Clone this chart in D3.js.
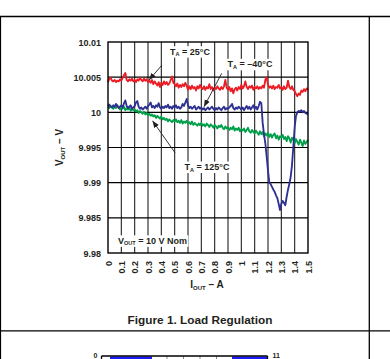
<!DOCTYPE html>
<html>
<head>
<meta charset="utf-8">
<script src="https://cdn.jsdelivr.net/npm/d3@7"></script>
<style>
  html, body { margin: 0; padding: 0; background: #fff; }
  svg { display: block; }
  text { font-family: "Liberation Sans", Arial, sans-serif; font-weight: bold; fill: #231f20; }
</style>
</head>
<body>
<svg id="chart" width="390" height="359"></svg>
<script>
// ---------------- DATA ----------------
const currents = [0,0.01,0.02,0.03,0.04,0.05,0.06,0.07,0.08,0.09,
0.1,0.11,0.12,0.13,0.14,0.15,0.16,0.17,0.18,0.19,
0.2,0.21,0.22,0.23,0.24,0.25,0.26,0.27,0.28,0.29,
0.3,0.31,0.32,0.33,0.34,0.35,0.36,0.37,0.38,0.39,
0.4,0.41,0.42,0.43,0.44,0.45,0.46,0.47,0.48,0.49,
0.5,0.51,0.52,0.53,0.54,0.55,0.56,0.57,0.58,0.59,
0.6,0.61,0.62,0.63,0.64,0.65,0.66,0.67,0.68,0.69,
0.7,0.71,0.72,0.73,0.74,0.75,0.76,0.77,0.78,0.79,
0.8,0.81,0.82,0.83,0.84,0.85,0.86,0.87,0.88,0.89,
0.9,0.91,0.92,0.93,0.94,0.95,0.96,0.97,0.98,0.99,
1,1.01,1.02,1.03,1.04,1.05,1.06,1.07,1.08,1.09,
1.1,1.11,1.12,1.13,1.14,1.15,1.16,1.17,1.18,1.19,
1.2,1.21,1.22,1.23,1.24,1.25,1.26,1.27,1.28,1.29,
1.3,1.31,1.32,1.33,1.34,1.35,1.36,1.37,1.38,1.39,
1.4,1.41,1.42,1.43,1.44,1.45,1.46,1.47,1.48,1.49,
1.5];

const vout25C = [10.0043,10.0048,10.0049,10.0045,10.0044,10.0046,10.0043,10.0045,10.0044,10.0047,
10.0045,10.0049,10.0053,10.0056,10.0046,10.0044,10.0047,10.0045,10.0048,10.0044,
10.0046,10.0043,10.0047,10.0045,10.0049,10.0046,10.0044,10.0048,10.0045,10.0047,
10.0043,10.0045,10.0042,10.0046,10.004,10.0044,10.0041,10.0038,10.0043,10.0036,
10.0042,10.0039,10.0044,10.004,10.0043,10.0039,10.0041,10.0046,10.0051,10.0042,
10.004,10.0037,10.0041,10.0035,10.0039,10.0036,10.004,10.0037,10.0042,10.0038,
10.0032,10.0037,10.0033,10.0038,10.0034,10.0036,10.0031,10.0037,10.0034,10.0039,
10.0035,10.0033,10.0037,10.0032,10.0036,10.0034,10.004,10.0033,10.0036,10.0031,
10.0035,10.0033,10.0037,10.0034,10.0032,10.0036,10.0033,10.0037,10.0046,10.0035,
10.0032,10.0036,10.003,10.0034,10.0027,10.0033,10.0035,10.0031,10.0036,10.0033,
10.0039,10.0034,10.0037,10.0044,10.0036,10.0033,10.0037,10.0035,10.0038,10.0032,
10.0036,10.0034,10.0037,10.0033,10.0036,10.0034,10.0038,10.0035,10.0046,10.005,
10.0039,10.0035,10.0037,10.0034,10.0038,10.0033,10.0036,10.0035,10.0039,10.0034,
10.0036,10.0032,10.0037,10.0033,10.0035,10.0045,10.0036,10.0033,10.0037,10.0032,
10.003,10.0026,10.0023,10.0027,10.0025,10.0031,10.0029,10.0033,10.003,10.0034,
10.0032];

const voutMinus40C = [10.0009,10.0011,10.0008,10.0007,10.001,10.0008,10.0012,10.0009,10.0006,10.0008,
10.001,10.0007,10.0013,10.0017,10.0009,10.0006,10.0008,10.001,10.0005,10.0007,
10.0009,10.0014,10.0016,10.0008,10.0005,10.0007,10.0004,10.0006,10.0008,10.0005,
10.0009,10.0011,10.0014,10.0007,10.0009,10.0006,10.001,10.0008,10.0013,10.0007,
10.0005,10.0008,10.0006,10.0009,10.0007,10.0011,10.0006,10.0008,10.0005,10.0009,
10.0007,10.001,10.0006,10.0008,10.0005,10.0007,10.0012,10.0009,10.0014,10.0019,
10.001,10.0006,10.0008,10.0005,10.0007,10.0009,10.0004,10.0006,10.0008,10.0005,
10.0007,10.0004,10.0006,10.0003,10.0005,10.0007,10.0004,10.0006,10.0008,10.0005,
10.0003,10.0006,10.0004,10.0007,10.0005,10.0003,10.0006,10.0008,10.0004,10.0006,
10.0005,10.0007,10.0009,10.0012,10.0006,10.0004,10.0007,10.0005,10.0008,10.0006,
10.0004,10.0007,10.0003,10.0006,10.0009,10.0005,10.0008,10.0004,10.0007,10.001,
10.0005,10.0008,10.0004,10.0009,10.0015,10.0013,9.9985,9.9969,9.9956,9.9937,
9.9917,9.99,9.9898,9.9894,9.989,9.9887,9.9882,9.9878,9.987,9.9861,
9.987,9.9874,9.9871,9.9868,9.988,9.989,9.9898,9.9908,9.9925,9.9951,
9.9979,9.9995,10,10.0002,10.0001,10.0003,10,10.0002,9.9999,9.9998,
9.9997];

const vout125C = [10.0008,10.0006,10.0009,10.0007,10.0005,10.0008,10.0006,10.001,10.0007,10.0004,
10.0007,10.0005,10.0008,10.0003,10.0006,10.0004,10.0007,10.0002,10.0005,10.0003,
10.0004,10.0001,10.0003,9.9999,10.0002,10,9.9998,10.0001,9.9997,9.9999,
9.9996,9.9998,9.9995,9.9997,9.9994,9.9996,9.9992,9.9995,9.9993,9.9991,
9.9994,9.999,9.9992,9.9989,9.9991,9.9987,9.999,9.9988,9.9986,9.9989,
9.9987,9.999,9.9986,9.9988,9.9985,9.9989,9.9984,9.9987,9.9985,9.9988,
9.9984,9.9986,9.9983,9.9987,9.9982,9.9985,9.9983,9.9981,9.9984,9.9982,
9.9985,9.9981,9.9983,9.998,9.9984,9.9982,9.9979,9.9983,9.9981,9.9978,
9.9982,9.998,9.9977,9.9981,9.9979,9.9982,9.9978,9.9976,9.998,9.9977,
9.9979,9.9975,9.9978,9.9976,9.998,9.9974,9.9977,9.9975,9.9978,9.9973,
9.9976,9.9974,9.9977,9.9972,9.9975,9.9978,9.9973,9.9971,9.9975,9.9972,
9.997,9.9974,9.9971,9.9968,9.9973,9.9969,9.9972,9.9966,9.997,9.9967,
9.9971,9.9965,9.9969,9.9964,9.9968,9.997,9.9963,9.9967,9.9961,9.9966,
9.9964,9.9968,9.9962,9.9965,9.9959,9.9966,9.9963,9.9957,9.9964,9.9961,
9.9956,9.9962,9.9958,9.9954,9.9961,9.9957,9.9952,9.996,9.9955,9.9958,
9.9961];

const xTicks = [0,0.1,0.2,0.3,0.4,0.5,0.6,0.7,0.8,0.9,1,1.1,1.2,1.3,1.4,1.5];
const xTickLabels = ["0","0.1","0.2","0.3","0.4","0.5","0.6","0.7","0.8","0.9","1","1.1","1.2","1.3","1.4","1.5"];
const yTicks = [9.98,9.985,9.99,9.995,10,10.005,10.01];
const yTickLabels = ["9.98","9.985","9.99","9.995","10","10.005","10.01"];

const seriesNames = ["25°C", "–40°C", "125°C"];
const seriesColors = ["#ec1c24", "#2e3192", "#00a04b"];

// next figure fragment (cut off at bottom of page)
const nextFigAxis = ["0", "11"];

// ---------------- CHART ----------------
const svg = d3.select("#chart");
const W = 390, H = 359;

// page frame
svg.append("line").attr("x1", 0).attr("x2", W).attr("y1", 16.5).attr("y2", 16.5)
  .attr("stroke", "#000").attr("stroke-width", 1.3);
svg.append("line").attr("x1", 0).attr("x2", W).attr("y1", 330.8).attr("y2", 330.8)
  .attr("stroke", "#000").attr("stroke-width", 1.3);
svg.append("line").attr("x1", 369.3).attr("x2", 369.3).attr("y1", 16).attr("y2", H)
  .attr("stroke", "#000").attr("stroke-width", 1.3);
svg.append("line").attr("x1", 0.5).attr("x2", 0.5).attr("y1", 16).attr("y2", H)
  .attr("stroke", "#000").attr("stroke-width", 1.2);

const L = 108, R = 308, T = 42, B = 253;
const x = d3.scaleLinear().domain([0, 1.5]).range([L, R]);
const y = d3.scaleLinear().domain([9.98, 10.01]).range([B, T]);

const g = svg.append("g");

// grid
g.selectAll(".vgrid").data(xTicks.slice(1, -1)).enter().append("line")
  .attr("x1", d => x(d)).attr("x2", d => x(d)).attr("y1", T).attr("y2", B)
  .attr("stroke", "#222").attr("stroke-width", 1.1);
g.selectAll(".hgrid").data(yTicks.slice(1, -1)).enter().append("line")
  .attr("x1", L).attr("x2", R).attr("y1", d => y(d)).attr("y2", d => y(d))
  .attr("stroke", "#000").attr("stroke-width", 1.2);

// series
const allSeries = [vout25C, voutMinus40C, vout125C];
const line = d3.line().x((d, i) => x(currents[i])).y(d => y(d));
const order = [2, 1, 0];
order.forEach(k => {
  g.append("path").datum(allSeries[k])
    .attr("d", line)
    .attr("fill", "none")
    .attr("stroke", seriesColors[k])
    .attr("stroke-width", 1.85)
    .attr("stroke-linejoin", "round");
});

// border
g.append("rect").attr("x", L).attr("y", T).attr("width", R - L).attr("height", B - T)
  .attr("fill", "none").attr("stroke", "#000").attr("stroke-width", 1.4);

// axes (labels only)
const xAxis = d3.axisBottom(x).tickValues(xTicks).tickSize(0)
  .tickFormat((d, i) => xTickLabels[i]);
const xg = svg.append("g").attr("transform", `translate(0,${B})`).call(xAxis);
xg.select(".domain").remove();
xg.selectAll("text")
  .attr("transform", "translate(0,8) rotate(-90)")
  .attr("x", 0).attr("y", 0).attr("dy", "0.35em")
  .attr("text-anchor", "end")
  .style("font-size", "9px").style("font-family", "Liberation Sans, Arial, sans-serif")
  .style("font-weight", "bold").attr("fill", "#231f20");

const yAxis = d3.axisLeft(y).tickValues(yTicks).tickSize(0)
  .tickFormat((d, i) => yTickLabels[i]);
const yg = svg.append("g").attr("transform", `translate(${L - 7},0)`).call(yAxis);
yg.select(".domain").remove();
yg.selectAll("text")
  .attr("x", 0).attr("dy", "0.35em")
  .style("font-size", "9px").style("font-family", "Liberation Sans, Arial, sans-serif")
  .style("font-weight", "bold").attr("fill", "#231f20");

// axis titles
const yt = svg.append("text")
  .attr("transform", `translate(63,${(T + B) / 2}) rotate(-90)`)
  .attr("text-anchor", "middle").style("font-size", "10px");
yt.append("tspan").text("V");
yt.append("tspan").text("OUT").style("font-size", "6px").attr("dy", 2);
yt.append("tspan").text(" – V").attr("dy", -2);

const xt = svg.append("text")
  .attr("x", 207).attr("y", 288)
  .attr("text-anchor", "middle").style("font-size", "10px");
xt.append("tspan").text("I");
xt.append("tspan").text("OUT").style("font-size", "6px").attr("dy", 2);
xt.append("tspan").text(" – A").attr("dy", -2);

// caption
svg.append("text").attr("x", 200).attr("y", 324).attr("text-anchor", "middle")
  .style("font-size", "11.8px").text("Figure 1. Load Regulation");

// annotations
svg.append("defs").append("marker")
  .attr("id", "arr").attr("viewBox", "0 0 10 10").attr("refX", 10).attr("refY", 5)
  .attr("markerWidth", 7).attr("markerHeight", 7).attr("markerUnits", "userSpaceOnUse")
  .attr("orient", "auto")
  .append("path").attr("d", "M0,1 L10,5 L0,9 z").attr("fill", "#231f20");

function label(cx, cy, main, sub, rest, anchor) {
  const grp = svg.append("g");
  const t = grp.append("text").attr("x", cx).attr("y", cy)
    .attr("text-anchor", anchor || "middle").style("font-size", "9px");
  t.append("tspan").text(main);
  t.append("tspan").text(sub).style("font-size", "5.5px").attr("dy", 1.5);
  t.append("tspan").text(rest).attr("dy", -1.5);
  const bb = t.node().getBBox();
  grp.insert("rect", "text").attr("x", bb.x - 1.5).attr("y", bb.y - 0.5)
    .attr("width", bb.width + 3).attr("height", bb.height + 1).attr("fill", "#fff");
}
function arrow(x1, y1, x2, y2) {
  svg.append("line").attr("x1", x1).attr("y1", y1).attr("x2", x2).attr("y2", y2)
    .attr("stroke", "#231f20").attr("stroke-width", 0.9).attr("marker-end", "url(#arr)");
}

label(x(0.615), y(10.0082), "T", "A", " = 25°C");
arrow(x(0.405), y(10.00673), x(0.3075), y(10.0046));

label(x(1.065), y(10.0064), "T", "A", " = " + seriesNames[1]);
arrow(x(0.853), y(10.00555), x(0.72), y(10.0008));

label(x(0.7425), y(9.9918), "T", "A", " = " + seriesNames[2]);
arrow(x(0.5025), y(9.99426), x(0.334), y(9.9988));

label(x(0.075), y(9.9813), "V", "OUT", " = 10 V Nom", "start");

// fragment of the next figure
const fx0 = 101.5, fx1 = 267.5;
svg.append("rect").attr("x", 110).attr("y", 356.5).attr("width", 42).attr("height", 5).attr("fill", "#1a1aff");
svg.append("rect").attr("x", 232).attr("y", 356.5).attr("width", 35).attr("height", 5).attr("fill", "#1a1aff");
[167, 183.5, 200, 216.5].forEach(v => svg.append("line").attr("x1", v).attr("x2", v)
  .attr("y1", 356).attr("y2", H).attr("stroke", "#888").attr("stroke-width", 1));
svg.append("line").attr("x1", fx0).attr("x2", fx1).attr("y1", 356).attr("y2", 356)
  .attr("stroke", "#000").attr("stroke-width", 1.3);
svg.append("line").attr("x1", fx0).attr("x2", fx0).attr("y1", 356).attr("y2", H)
  .attr("stroke", "#000").attr("stroke-width", 1.3);
svg.append("line").attr("x1", fx1).attr("x2", fx1).attr("y1", 356).attr("y2", H)
  .attr("stroke", "#000").attr("stroke-width", 1.3);
svg.append("text").attr("x", fx0 - 4).attr("y", 357.6).attr("text-anchor", "end")
  .style("font-size", "7px").text(nextFigAxis[0]);
svg.append("text").attr("x", fx1 + 5).attr("y", 357.6).attr("text-anchor", "start")
  .style("font-size", "7px").text(nextFigAxis[1]);
</script>
</body>
</html>
